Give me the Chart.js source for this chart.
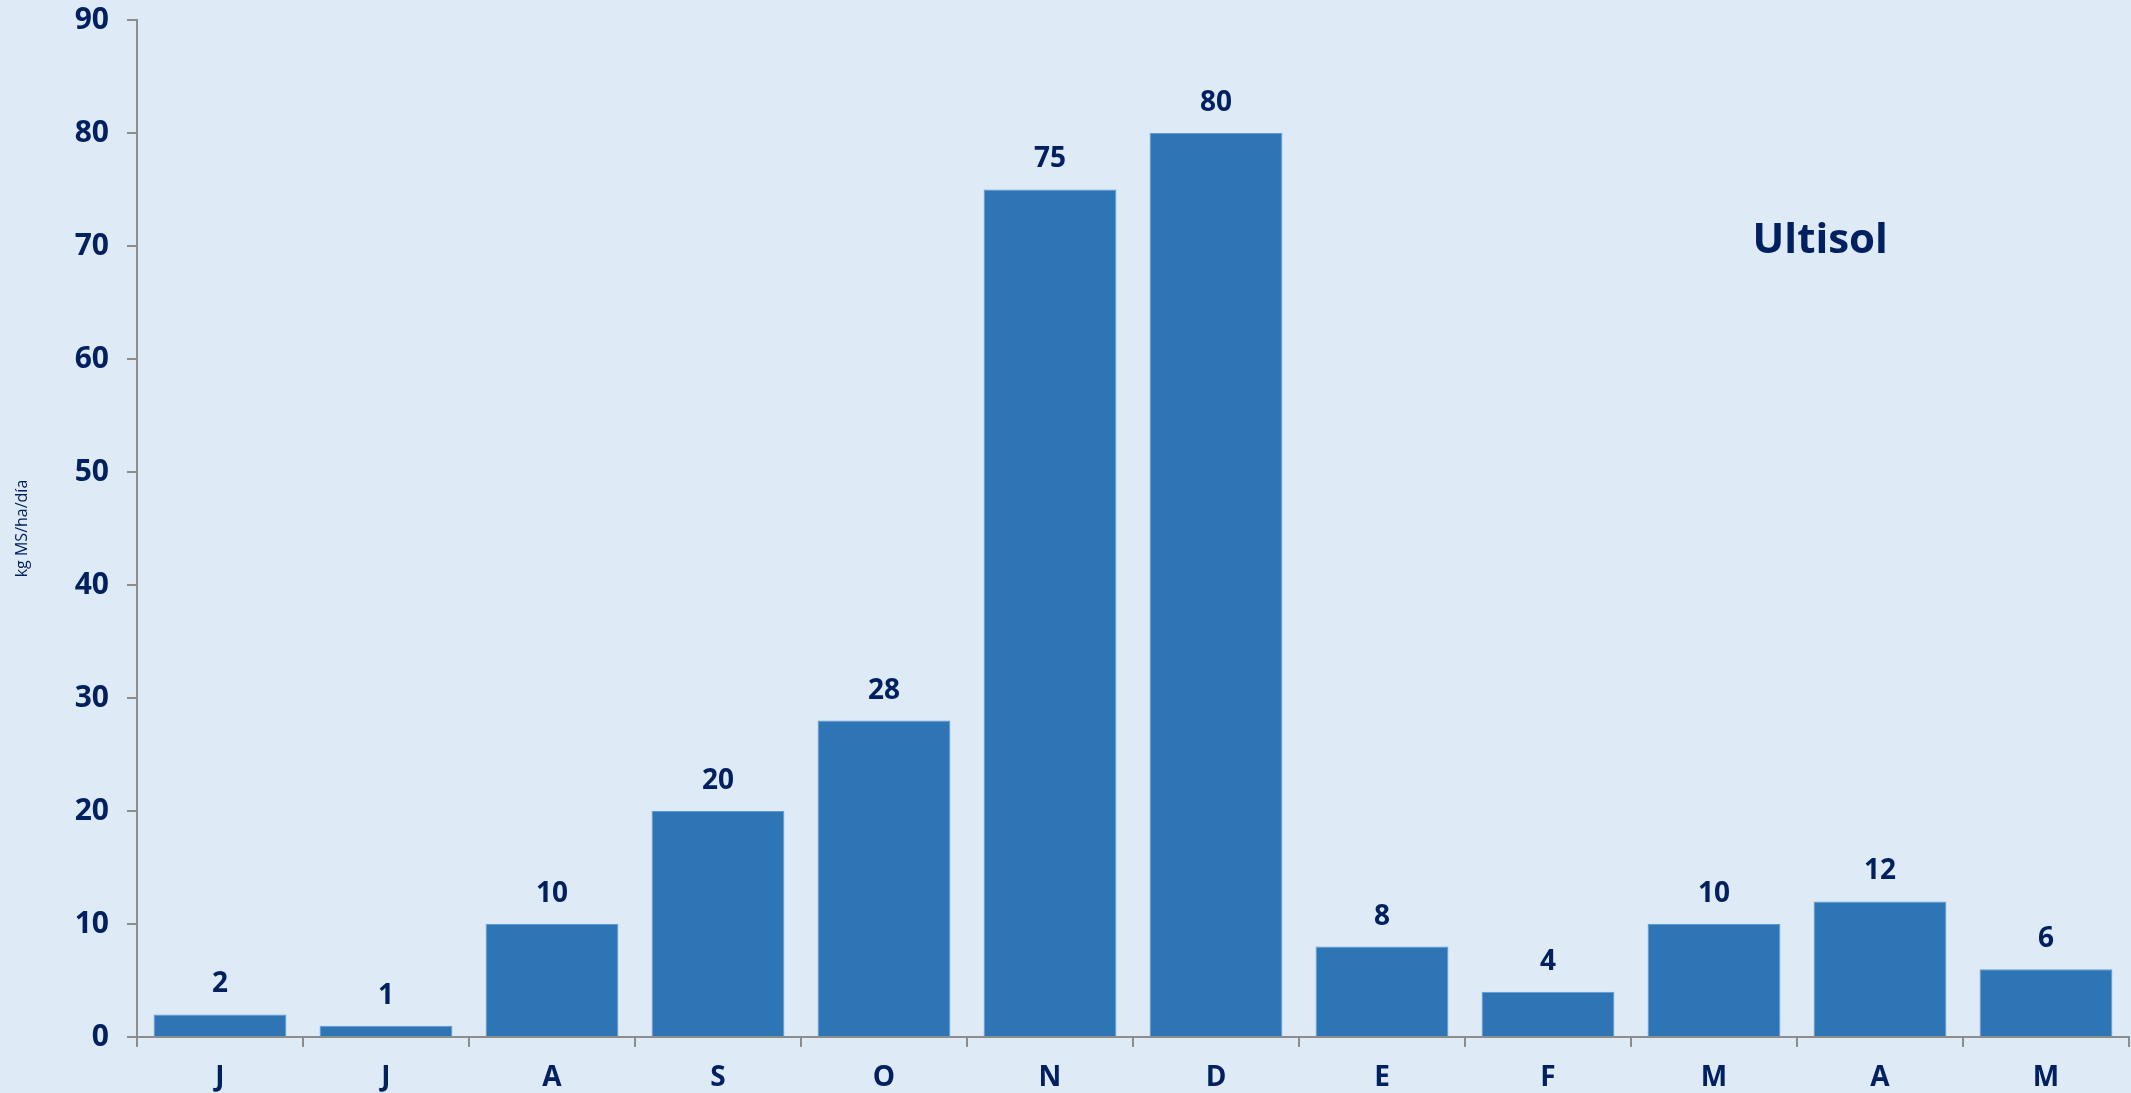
<!DOCTYPE html>
<html>
<head>
<meta charset="utf-8">
<script src="https://cdn.jsdelivr.net/npm/chart.js@4"></script>
<style>
  html, body { margin: 0; padding: 0; background: #DEEAF6; }
  #wrap { width: 2131px; height: 1093px; }
</style>
</head>
<body>
<div id="wrap"><canvas id="chart"></canvas></div>
<script>
const months = ['J', 'J', 'A', 'S', 'O', 'N', 'D', 'E', 'F', 'M', 'A', 'M'];
const growth = [2, 1, 10, 20, 28, 75, 80, 8, 4, 10, 12, 6];
const yTitle = 'kg MS/ha/día';
const soilLabel = 'Ultisol';

const navy = '#002060';
const fontFamily = "'Open Sans', 'Noto Sans', sans-serif";

// value labels on top of bars + soil name
const labelPlugin = {
    id: 'labels',
    afterDatasetsDraw(chart) {
        const ctx = chart.ctx;
        const meta = chart.getDatasetMeta(0);
        ctx.save();
        ctx.fillStyle = navy;
        ctx.font = 'bold 28px ' + fontFamily;
        ctx.textAlign = 'center';
        ctx.textBaseline = 'middle';
        meta.data.forEach((bar, i) => {
            ctx.fillText(String(growth[i]), bar.x, bar.y - 30);
        });
        const area = chart.chartArea;
        ctx.font = 'bold 42px ' + fontFamily;
        ctx.fillText(soilLabel, area.left + (area.right - area.left) * 0.845, 241);
        ctx.restore();
    }
};

new Chart(document.getElementById('chart'), {
    type: 'bar',
    data: {
        labels: months,
        datasets: [{
            data: growth,
            backgroundColor: '#2E75B6',
            borderColor: '#5B9BD5',
            borderWidth: 1,
            categoryPercentage: 0.8,
            barPercentage: 1.0
        }]
    },
    options: {
        responsive: true,
        maintainAspectRatio: false,
        animation: false,
        layout: { padding: { top: 20, right: 2, left: 4, bottom: 0 } },
        plugins: {
            legend: { display: false },
            tooltip: { enabled: false }
        },
        scales: {
            x: {
                offset: true,
                afterFit(scale) { scale.height = 56; },
                grid: {
                    offset: true,
                    drawOnChartArea: false,
                    color: '#8C8C8C',
                    tickLength: 10,
                    lineWidth: 2
                },
                border: { color: '#8C8C8C', width: 2 },
                ticks: {
                    color: navy,
                    font: { family: fontFamily, size: 28, weight: 'bold' },
                    padding: 14
                }
            },
            y: {
                min: 0,
                max: 90,
                afterFit(scale) {
                    scale.width = 133;
                    scale.paddingTop = 0;
                    scale.paddingBottom = 0;
                },
                ticks: {
                    stepSize: 10,
                    color: navy,
                    font: { family: fontFamily, size: 30, weight: 'bold' },
                    padding: 18
                },
                grid: {
                    drawOnChartArea: false,
                    color: '#8C8C8C',
                    tickLength: 10,
                    lineWidth: 2
                },
                border: { color: '#8C8C8C', width: 2 },
                title: {
                    display: true,
                    text: yTitle,
                    color: navy,
                    font: { family: fontFamily, size: 16 },
                    padding: { top: 9, bottom: 0 }
                }
            }
        }
    },
    plugins: [labelPlugin]
});
</script>
</body>
</html>
